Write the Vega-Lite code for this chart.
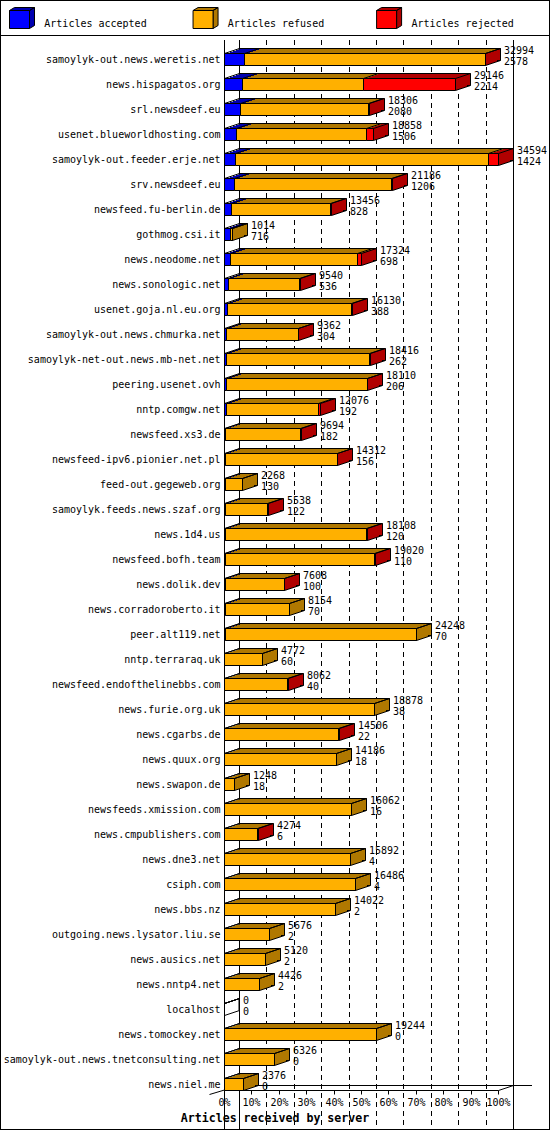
{
  "$schema": "https://vega.github.io/schema/vega-lite/v6.json",
  "width": 550,
  "height": 1130,
  "autosize": "none",
  "padding": 0,
  "background": "white",
  "config": {
    "view": {"stroke": "black", "strokeWidth": 2},
    "font": "DejaVu Sans Mono",
    "legend": {
      "padding": 9,
      "symbolSize": 256,
      "symbolStrokeColor": "black",
      "symbolStrokeWidth": 1,
      "labelFont": "DejaVu Sans Mono",
      "labelFontSize": 10,
      "labelColor": "black",
      "labelOffset": 17.8,
      "labelBaseline": "line-top",
      "labelLineHeight": 0.2,
      "gridAlign": "all",
      "columnPadding": 43.55,
      "labelLimit": 200
    }
  },
  "datasets": {
    "hosts": [
      {"host": "samoylyk-out.news.weretis.net", "received": 32994, "accepted": 2578, "refused": 30316, "rejected": 100},
      {"host": "news.hispagatos.org", "received": 29146, "accepted": 2214, "refused": 15379, "rejected": 11553},
      {"host": "srl.newsdeef.eu", "received": 18306, "accepted": 2080, "refused": 16076, "rejected": 150},
      {"host": "usenet.blueworldhosting.com", "received": 18858, "accepted": 1506, "refused": 16402, "rejected": 950},
      {"host": "samoylyk-out.feeder.erje.net", "received": 34594, "accepted": 1424, "refused": 31970, "rejected": 1200},
      {"host": "srv.newsdeef.eu", "received": 21186, "accepted": 1206, "refused": 19870, "rejected": 110},
      {"host": "newsfeed.fu-berlin.de", "received": 13456, "accepted": 828, "refused": 12538, "rejected": 90},
      {"host": "gothmog.csi.it", "received": 1014, "accepted": 716, "refused": 298, "rejected": 0},
      {"host": "news.neodome.net", "received": 17324, "accepted": 698, "refused": 16096, "rejected": 530},
      {"host": "news.sonologic.net", "received": 9540, "accepted": 536, "refused": 8904, "rejected": 100},
      {"host": "usenet.goja.nl.eu.org", "received": 16130, "accepted": 388, "refused": 15642, "rejected": 100},
      {"host": "samoylyk-out.news.chmurka.net", "received": 9362, "accepted": 304, "refused": 8998, "rejected": 60},
      {"host": "samoylyk-net-out.news.mb-net.net", "received": 18416, "accepted": 262, "refused": 18024, "rejected": 130},
      {"host": "peering.usenet.ovh", "received": 18110, "accepted": 206, "refused": 17814, "rejected": 90},
      {"host": "nntp.comgw.net", "received": 12076, "accepted": 192, "refused": 11634, "rejected": 250},
      {"host": "newsfeed.xs3.de", "received": 9694, "accepted": 182, "refused": 9382, "rejected": 130},
      {"host": "newsfeed-ipv6.pionier.net.pl", "received": 14312, "accepted": 156, "refused": 14096, "rejected": 60},
      {"host": "feed-out.gegeweb.org", "received": 2268, "accepted": 130, "refused": 2138, "rejected": 0},
      {"host": "samoylyk.feeds.news.szaf.org", "received": 5538, "accepted": 122, "refused": 5286, "rejected": 130},
      {"host": "news.1d4.us", "received": 18108, "accepted": 120, "refused": 17818, "rejected": 170},
      {"host": "newsfeed.bofh.team", "received": 19020, "accepted": 110, "refused": 18850, "rejected": 60},
      {"host": "news.dolik.dev", "received": 7608, "accepted": 100, "refused": 7428, "rejected": 80},
      {"host": "news.corradoroberto.it", "received": 8154, "accepted": 70, "refused": 8084, "rejected": 0},
      {"host": "peer.alt119.net", "received": 24248, "accepted": 70, "refused": 24178, "rejected": 0},
      {"host": "nntp.terraraq.uk", "received": 4772, "accepted": 60, "refused": 4712, "rejected": 0},
      {"host": "newsfeed.endofthelinebbs.com", "received": 8062, "accepted": 40, "refused": 7942, "rejected": 80},
      {"host": "news.furie.org.uk", "received": 18878, "accepted": 38, "refused": 18840, "rejected": 0},
      {"host": "news.cgarbs.de", "received": 14506, "accepted": 22, "refused": 14384, "rejected": 100},
      {"host": "news.quux.org", "received": 14186, "accepted": 18, "refused": 14168, "rejected": 0},
      {"host": "news.swapon.de", "received": 1248, "accepted": 18, "refused": 1230, "rejected": 0},
      {"host": "newsfeeds.xmission.com", "received": 16062, "accepted": 16, "refused": 16046, "rejected": 0},
      {"host": "news.cmpublishers.com", "received": 4274, "accepted": 6, "refused": 4208, "rejected": 60},
      {"host": "news.dne3.net", "received": 15892, "accepted": 4, "refused": 15888, "rejected": 0},
      {"host": "csiph.com", "received": 16486, "accepted": 4, "refused": 16482, "rejected": 0},
      {"host": "news.bbs.nz", "received": 14022, "accepted": 2, "refused": 14020, "rejected": 0},
      {"host": "outgoing.news.lysator.liu.se", "received": 5676, "accepted": 2, "refused": 5674, "rejected": 0},
      {"host": "news.ausics.net", "received": 5120, "accepted": 2, "refused": 5118, "rejected": 0},
      {"host": "news.nntp4.net", "received": 4426, "accepted": 2, "refused": 4424, "rejected": 0},
      {"host": "localhost", "received": 0, "accepted": 0, "refused": 0, "rejected": 0},
      {"host": "news.tomockey.net", "received": 19244, "accepted": 0, "refused": 19244, "rejected": 0},
      {"host": "samoylyk-out.news.tnetconsulting.net", "received": 6326, "accepted": 0, "refused": 6326, "rejected": 0},
      {"host": "news.niel.me", "received": 2376, "accepted": 0, "refused": 2376, "rejected": 0}
    ],
    "grid": [
      {"at": 0}, {"at": 3459.4}, {"at": 6918.8}, {"at": 10378.2}, {"at": 13837.6}, {"at": 17297},
      {"at": 20756.4}, {"at": 24215.8}, {"at": 27675.2}, {"at": 31134.6}, {"at": 34594}
    ]
  },
  "data": {"name": "hosts"},
  "layer": [
    {
      "data": {"name": "grid"},
      "transform": [{"filter": "datum.at > 0 && datum.at < 34594"}],
      "mark": {"type": "rule", "color": "black", "strokeWidth": 1, "strokeDash": [5, 4], "xOffset": 0.5, "yOffset": 40, "y2Offset": -44.5},
      "encoding": {
        "x": {
          "field": "at", "type": "quantitative",
          "scale": {"domain": [0, 34594], "range": [239, 513], "round": true, "nice": false, "zero": true},
          "axis": {
            "values": [0, 3459.4, 6918.8, 10378.2, 13837.6, 17297, 20756.4, 24215.8, 27675.2, 31134.6, 34594],
            "labelExpr": "round(datum.value / 34594 * 100) + '%'",
            "orient": "bottom", "position": -15, "offset": -40,
            "domainColor": "black", "domainWidth": 1,
            "tickColor": "black", "tickSize": 4, "tickWidth": 1,
            "labelFont": "DejaVu Sans Mono", "labelFontSize": 10, "labelColor": "black",
            "labelPadding": 3, "labelFlush": false, "labelOverlap": false, "labelBaseline": "top",
            "grid": false,
            "title": "Articles received by server",
            "titleFont": "DejaVu Sans Mono", "titleFontSize": 11.6, "titleFontWeight": "bold", "titleColor": "black",
            "titleX": 289.5, "titleY": 28, "titleAlign": "center", "titleBaseline": "middle"
          }
        }
      }
    },
    {
      "data": {"name": "grid"},
      "transform": [{"filter": "datum.at == 0 || datum.at == 34594"}],
      "mark": {"type": "rule", "color": "black", "strokeWidth": 1, "xOffset": 0.5, "yOffset": 40, "y2Offset": -44.5},
      "encoding": {"x": {"field": "at", "type": "quantitative"}}
    },
    {
      "data": {"name": "grid"},
      "transform": [{"filter": "datum.at == 0"}],
      "mark": {"type": "rule", "color": "black", "strokeWidth": 1, "xOffset": -14.5, "yOffset": 40, "y2Offset": -39.5},
      "encoding": {"x": {"field": "at", "type": "quantitative"}}
    },
    {
      "transform": [
        {"fold": ["accepted", "refused", "rejected"], "as": ["part", "n"]},
        {"stack": "n", "groupby": ["host"], "sort": [{"field": "part"}], "as": ["x0", "x1"]}
      ],
      "mark": {"type": "rect"},
      "encoding": {
        "x": {"field": "x0", "type": "quantitative"}, "x2": {"field": "x1"},
        "y": {"field": "host", "type": "nominal", "sort": null, "scale": {"range": [40, 1085.5], "paddingInner": 0.52, "paddingOuter": 0.17, "align": 1}},
        "fill": {
          "field": "part", "type": "nominal",
          "scale": {"domain": ["accepted", "refused", "rejected", "none"], "range": ["#0000B0", "#B07800", "#B00000", "#808080"]},
          "legend": {
            "title": null, "orient": "none", "legendX": 0.5, "legendY": 0.5,
            "direction": "horizontal", "columns": 3,
            "values": ["accepted", "refused", "rejected"],
            "symbolType": "M-1.0625,-0.9375L-0.4375,-1.3125L2.0625,-1.3125L1.4375,-0.9375ZM1.4375,-0.9375L2.0625,-1.3125L2.0625,0.9375L1.4375,1.3125Z",
            "symbolStrokeColor": "black", "symbolStrokeWidth": 1,
            "labelOpacity": 0,
            "labelExpr": "'Articles ' + datum.label"
          }
        }
      }
    },
    {
      "transform": [
        {"filter": "datum.received > 0"},
        {"calculate": "datum.rejected > 0 ? 'rejected' : (datum.refused > 0 ? 'refused' : 'accepted')", "as": "last"}
      ],
      "mark": {"type": "rect", "xOffset": -3, "x2Offset": 0},
      "encoding": {"x": {"field": "received", "type": "quantitative"}, "x2": {"field": "received"}, "y": {"field": "host", "type": "nominal", "sort": null}, "fill": {"field": "last", "type": "nominal"}}
    },
    {
      "transform": [
        {"joinaggregate": [{"op": "min", "field": "received", "as": "lo"}, {"op": "max", "field": "received", "as": "hi"}]},
        {"filter": "datum.host == 'news.niel.me'"}
      ],
      "layer": [
        {
          "mark": {"type": "rule", "color": "black", "strokeWidth": 1, "xOffset": 0.5, "x2Offset": 19, "yOffset": 6},
          "encoding": {"x": {"field": "lo", "type": "quantitative"}, "x2": {"field": "hi"}, "y": {"field": "host", "type": "nominal", "sort": null}}
        },
        {
          "mark": {"type": "rule", "color": "black", "strokeWidth": 1, "xOffset": -29.5, "x2Offset": 0.5, "yOffset": 15, "y2Offset": 6},
          "encoding": {"x": {"field": "lo", "type": "quantitative"}, "x2": {"field": "lo"}, "y": {"field": "host", "type": "nominal", "sort": null}, "y2": {"field": "host"}}
        },
        {
          "mark": {"type": "rule", "color": "black", "strokeWidth": 1, "xOffset": -14.5, "x2Offset": 0.5, "yOffset": 11, "y2Offset": 6},
          "encoding": {"x": {"field": "hi", "type": "quantitative"}, "x2": {"field": "hi"}, "y": {"field": "host", "type": "nominal", "sort": null}, "y2": {"field": "host"}}
        }
      ]
    },
    {
      "transform": [{"filter": "datum.host == 'samoylyk-out.news.weretis.net'"}],
      "mark": {"type": "rule", "color": "black", "strokeWidth": 1, "yOffset": -19},
      "encoding": {"y": {"field": "host", "type": "nominal", "sort": null}}
    },
    {
      "mark": {"type": "bar", "fill": "transparent", "stroke": "black", "strokeWidth": 1, "xOffset": 0.5, "x2Offset": 0.5},
      "encoding": {
        "x": {"field": "received", "type": "quantitative", "stack": null},
        "y": {"field": "host", "type": "nominal", "sort": null}
      }
    },
    {
      "transform": [
        {"fold": ["accepted", "refused", "rejected"], "as": ["part", "n"]},
        {"stack": "n", "groupby": ["host"], "sort": [{"field": "part"}], "as": ["x0", "x1"]}
      ],
      "mark": {"type": "rect", "xOffset": -3, "x2Offset": -3, "yOffset": 1.5, "y2Offset": 1.5},
      "encoding": {"x": {"field": "x0", "type": "quantitative"}, "x2": {"field": "x1"}, "y": {"field": "host", "type": "nominal", "sort": null}, "fill": {"field": "part", "type": "nominal"}}
    },
    {
      "transform": [
        {"filter": "datum.received > 0"},
        {"calculate": "datum.rejected > 0 ? 'rejected' : (datum.refused > 0 ? 'refused' : 'accepted')", "as": "last"}
      ],
      "mark": {"type": "rect", "xOffset": -6, "x2Offset": -3, "yOffset": 1.5, "y2Offset": 1.5},
      "encoding": {"x": {"field": "received", "type": "quantitative"}, "x2": {"field": "received"}, "y": {"field": "host", "type": "nominal", "sort": null}, "fill": {"field": "last", "type": "nominal"}}
    },
    {
      "transform": [
        {"fold": ["accepted", "refused", "rejected"], "as": ["part", "n"]},
        {"stack": "n", "groupby": ["host"], "sort": [{"field": "part"}], "as": ["x0", "x1"]}
      ],
      "mark": {"type": "rect", "xOffset": -6, "x2Offset": -6, "yOffset": 2.5, "y2Offset": 2.5},
      "encoding": {"x": {"field": "x0", "type": "quantitative"}, "x2": {"field": "x1"}, "y": {"field": "host", "type": "nominal", "sort": null}, "fill": {"field": "part", "type": "nominal"}}
    },
    {
      "transform": [
        {"filter": "datum.received > 0"},
        {"calculate": "datum.rejected > 0 ? 'rejected' : (datum.refused > 0 ? 'refused' : 'accepted')", "as": "last"}
      ],
      "mark": {"type": "rect", "xOffset": -9, "x2Offset": -6, "yOffset": 2.5, "y2Offset": 2.5},
      "encoding": {"x": {"field": "received", "type": "quantitative"}, "x2": {"field": "received"}, "y": {"field": "host", "type": "nominal", "sort": null}, "fill": {"field": "last", "type": "nominal"}}
    },
    {
      "transform": [
        {"fold": ["accepted", "refused", "rejected"], "as": ["part", "n"]},
        {"stack": "n", "groupby": ["host"], "sort": [{"field": "part"}], "as": ["x0", "x1"]}
      ],
      "mark": {"type": "rect", "xOffset": -9, "x2Offset": -9, "yOffset": 3.5, "y2Offset": 3.5},
      "encoding": {"x": {"field": "x0", "type": "quantitative"}, "x2": {"field": "x1"}, "y": {"field": "host", "type": "nominal", "sort": null}, "fill": {"field": "part", "type": "nominal"}}
    },
    {
      "transform": [
        {"filter": "datum.received > 0"},
        {"calculate": "datum.rejected > 0 ? 'rejected' : (datum.refused > 0 ? 'refused' : 'accepted')", "as": "last"}
      ],
      "mark": {"type": "rect", "xOffset": -12, "x2Offset": -9, "yOffset": 3.5, "y2Offset": 3.5},
      "encoding": {"x": {"field": "received", "type": "quantitative"}, "x2": {"field": "received"}, "y": {"field": "host", "type": "nominal", "sort": null}, "fill": {"field": "last", "type": "nominal"}}
    },
    {
      "transform": [
        {"fold": ["accepted", "refused", "rejected"], "as": ["part", "n"]},
        {"stack": "n", "groupby": ["host"], "sort": [{"field": "part"}], "as": ["x0", "x1"]}
      ],
      "mark": {"type": "rect", "xOffset": -12, "x2Offset": -12, "yOffset": 4.5, "y2Offset": 4.5},
      "encoding": {"x": {"field": "x0", "type": "quantitative"}, "x2": {"field": "x1"}, "y": {"field": "host", "type": "nominal", "sort": null}, "fill": {"field": "part", "type": "nominal"}}
    },
    {
      "transform": [
        {"filter": "datum.received > 0"},
        {"calculate": "datum.rejected > 0 ? 'rejected' : (datum.refused > 0 ? 'refused' : 'accepted')", "as": "last"}
      ],
      "mark": {"type": "rect", "xOffset": -15, "x2Offset": -12, "yOffset": 4.5, "y2Offset": 4.5},
      "encoding": {"x": {"field": "received", "type": "quantitative"}, "x2": {"field": "received"}, "y": {"field": "host", "type": "nominal", "sort": null}, "fill": {"field": "last", "type": "nominal"}}
    },
    {
      "transform": [
        {"fold": ["accepted", "refused", "rejected"], "as": ["key", "n"]},
        {"stack": "n", "groupby": ["host"], "sort": [{"field": "key"}], "as": ["x0", "x1"]}
      ],
      "mark": {"type": "rect", "stroke": "black", "strokeWidth": 1, "xOffset": -14.5, "x2Offset": -14.5, "yOffset": 5, "y2Offset": 5},
      "encoding": {
        "x": {"field": "x0", "type": "quantitative"},
        "x2": {"field": "x1"},
        "y": {
          "field": "host", "type": "nominal", "sort": null,
          "axis": {
            "orient": "left", "offset": -239, "domain": false, "ticks": false, "tickSize": 0, "grid": false,
            "labelPadding": 19, "labelOffset": 5, "labelFont": "DejaVu Sans Mono", "labelFontSize": 10,
            "labelColor": "black", "labelLimit": 300, "title": null
          }
        },
        "color": {
          "field": "key", "type": "nominal",
          "scale": {"domain": ["accepted", "refused", "rejected"], "range": ["#0000FF", "#FFB000", "#FF0000"]},
          "legend": {
            "title": null, "orient": "none", "legendX": 0.5, "legendY": 0.5,
            "direction": "horizontal", "columns": 3,
            "symbolType": "M-1.0625,-0.9375L1.4375,-0.9375L1.4375,1.3125L-1.0625,1.3125Z",
            "symbolStrokeColor": "black", "symbolStrokeWidth": 1,
            "labelExpr": "'Articles ' + datum.label"
          }
        }
      }
    },
    {
      "transform": [
        {"fold": ["accepted", "refused", "rejected"], "as": ["key", "n"]},
        {"stack": "n", "groupby": ["host"], "sort": [{"field": "key"}], "as": ["x0", "x1"]}
      ],
      "mark": {"type": "rule", "color": "black", "strokeWidth": 1, "xOffset": -14.5, "x2Offset": 0.5, "yOffset": -1, "y2Offset": -6},
      "encoding": {"x": {"field": "x0", "type": "quantitative"}, "x2": {"field": "x0"}, "y": {"field": "host", "type": "nominal", "sort": null}, "y2": {"field": "host"}}
    },
    {
      "mark": {"type": "rule", "color": "black", "strokeWidth": 1, "xOffset": -14.5, "x2Offset": 0.5, "yOffset": -1, "y2Offset": -6},
      "encoding": {"x": {"field": "received", "type": "quantitative"}, "x2": {"field": "received"}, "y": {"field": "host", "type": "nominal", "sort": null}, "y2": {"field": "host"}}
    },
    {
      "mark": {"type": "rule", "color": "black", "strokeWidth": 1, "xOffset": -14.5, "x2Offset": 0.5, "yOffset": 11, "y2Offset": 6},
      "encoding": {"x": {"field": "received", "type": "quantitative"}, "x2": {"field": "received"}, "y": {"field": "host", "type": "nominal", "sort": null}, "y2": {"field": "host"}}
    },
    {
      "mark": {"type": "text", "align": "left", "baseline": "middle", "dx": 4, "dy": -3.6, "font": "DejaVu Sans Mono", "fontSize": 10, "color": "black"},
      "encoding": {"x": {"field": "received", "type": "quantitative"}, "y": {"field": "host", "type": "nominal", "sort": null}, "text": {"field": "received", "type": "quantitative", "format": "d"}}
    },
    {
      "mark": {"type": "text", "align": "left", "baseline": "middle", "dx": 4, "dy": 7.2, "font": "DejaVu Sans Mono", "fontSize": 10, "color": "black"},
      "encoding": {"x": {"field": "received", "type": "quantitative"}, "y": {"field": "host", "type": "nominal", "sort": null}, "text": {"field": "accepted", "type": "quantitative", "format": "d"}}
    }
  ]
}
